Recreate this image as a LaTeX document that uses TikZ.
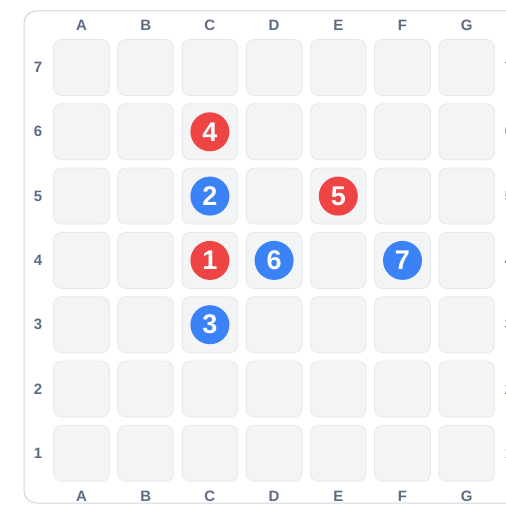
\documentclass[tikz,border=0pt]{standalone}
\usepackage{fontspec}
\setmainfont{Liberation Sans}
\usepackage{xcolor}
\usetikzlibrary{positioning}
\definecolor{cellfill}{HTML}{F3F4F6}
\definecolor{cellline}{HTML}{E5E7EB}
\definecolor{frameline}{HTML}{D1D5DB}
\definecolor{labelgray}{HTML}{5B6B84}
\definecolor{tokred}{HTML}{EF4444}
\definecolor{tokblue}{HTML}{3B82F6}
\begin{document}
\begin{tikzpicture}[
x=1pt,y=-1pt,
cell/.style={draw=cellline,fill=cellfill,rounded corners=8pt,minimum size=56pt,line width=.8pt,inner sep=0pt},
lbl/.style={text=labelgray,inner sep=0pt,font=\fontsize{15}{15}\selectfont\bfseries},
token/.style={circle,minimum size=39pt,inner sep=0pt,text=white,font=\fontsize{27}{27}\selectfont\bfseries},
redtoken/.style={token,fill=tokred},
bluetoken/.style={token,fill=tokblue}
]
\clip (0,0) rectangle (506,505);
\draw[frameline,line width=1pt,rounded corners=12pt] (24,11) rectangle (560,503);
% board cells and labels
\foreach \col [count=\i from 0] in {A,B,C,D,E,F,G} {
  \node[lbl] (top-\col) at (81.5+64.2*\i,25) {\col};
  \node[lbl] (bot-\col) at (81.5+64.2*\i,496) {\col};
  \foreach \row in {1,...,7}
    \node[cell] (cell-\col\row) at (81.5+64.2*\i,67.5+64.3*7-64.3*\row) {};
}
\foreach \row in {1,...,7} {
  \node[lbl] (left-\row) at (38,67.5+64.3*7-64.3*\row) {\row};
  \node[lbl] (right-\row) at (509,67.5+64.3*7-64.3*\row) {\row};
}
% stones in play order
\node[redtoken] (tok-1) at (cell-C4) {1};
\node[bluetoken] (tok-2) at (cell-C5) {2};
\node[bluetoken] (tok-3) at (cell-C3) {3};
\node[redtoken] (tok-4) at (cell-C6) {4};
\node[redtoken] (tok-5) at (cell-E5) {5};
\node[bluetoken] (tok-6) at (cell-D4) {6};
\node[bluetoken] (tok-7) at (cell-F4) {7};
\end{tikzpicture}
\end{document}
